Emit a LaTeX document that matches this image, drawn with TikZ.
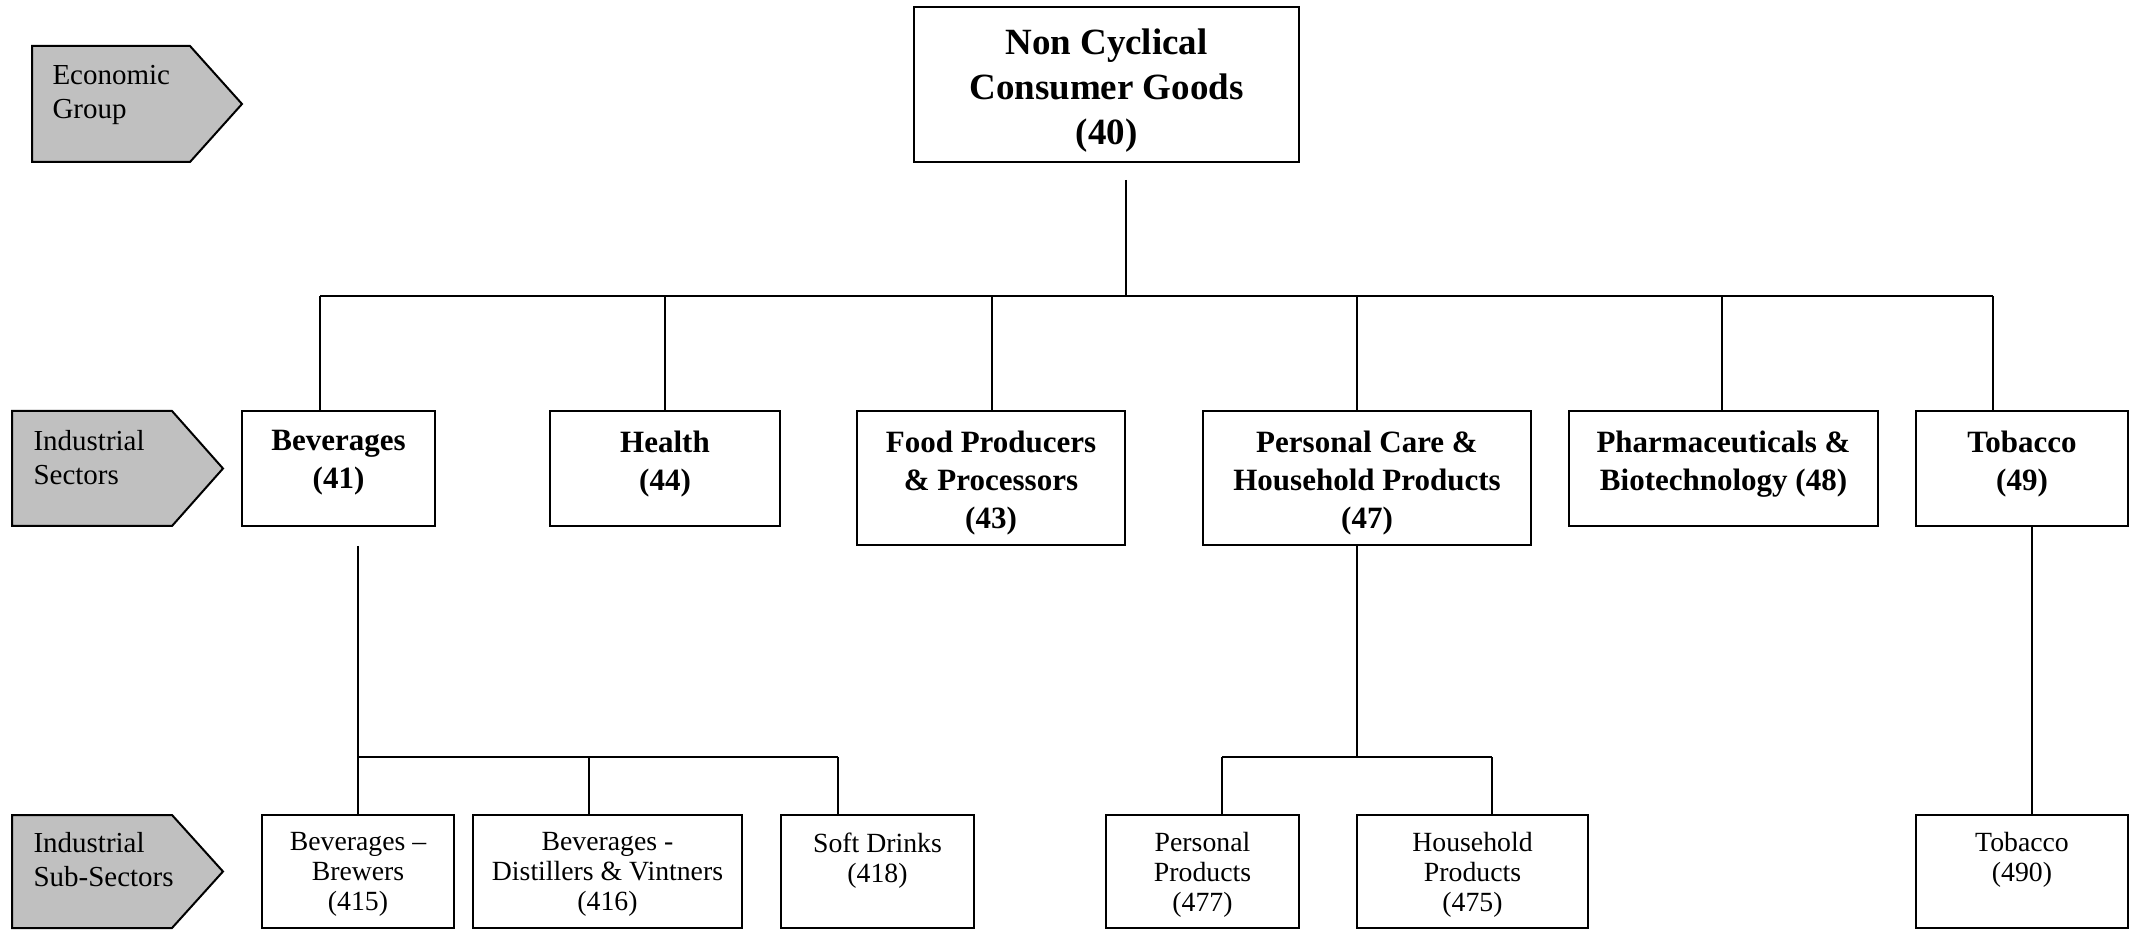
\documentclass[tikz,border=0pt]{standalone}
\usepackage{fontspec}
\setmainfont{Liberation Serif}
\definecolor{tagfill}{RGB}{192,192,192}
\begin{document}
\begin{tikzpicture}[x=0.4pt,y=-0.4pt,
 box/.style={draw, line width=0.8pt, inner sep=0pt},
 conn/.style={line width=0.7pt},
 tagshape/.style={draw, line width=0.8pt, fill=tagfill},
 toptxt/.style={anchor=north, inner sep=0pt, align=center, font=\fontsize{14.8}{18}\selectfont\bfseries},
 sectxt/.style={anchor=north, inner sep=0pt, align=center, font=\fontsize{12.4}{15.2}\selectfont\bfseries},
 subtxt/.style={anchor=north, inner sep=0pt, align=center, font=\fontsize{11.1}{12}\selectfont},
 tagtxt/.style={anchor=north west, inner sep=0pt, align=left, font=\fontsize{11.6}{13.6}\selectfont},
]
\useasboundingbox (0,0) rectangle (2130,930);

% level tags
\draw[tagshape] (32,46) -- (190,46) -- (242,104) -- (190,162) -- (32,162) -- cycle;
\draw[tagshape] (12,411) -- (172,411) -- (223,468.5) -- (172,526) -- (12,526) -- cycle;
\draw[tagshape] (12,815) -- (172,815) -- (223,871.5) -- (172,928) -- (12,928) -- cycle;
\node[tagtxt] (tag1) at (52,65) {Economic\\Group};
\node[tagtxt] (tag2) at (33,430) {Industrial\\Sectors};
\node[tagtxt] (tag3) at (33,832) {Industrial\\Sub-Sectors};

% top box
\node[box, minimum width=154pt, minimum height=62pt] (top) at (1106.5,84.5) {};
\node[toptxt] (topT) at (1106.5,28) {Non Cyclical\\Consumer Goods\\(40)};

% sector boxes
\node[box, minimum width=77.2pt, minimum height=46pt] (bev) at (338.5,468.5) {};
\node[box, minimum width=92pt, minimum height=46pt] (hea) at (665,468.5) {};
\node[box, minimum width=107.2pt, minimum height=53.6pt] (food) at (991,478) {};
\node[box, minimum width=131.2pt, minimum height=53.6pt] (pc) at (1367,478) {};
\node[box, minimum width=123.6pt, minimum height=46pt] (pha) at (1723.5,468.5) {};
\node[box, minimum width=84.8pt, minimum height=46pt] (tob) at (2022,468.5) {};
\node[sectxt] (bevT) at (338.5,430) {Beverages\\(41)};
\node[sectxt] (heaT) at (665,430) {Health\\(44)};
\node[sectxt] (foodT) at (991,430) {Food Producers\\\& Processors\\(43)};
\node[sectxt] (pcT) at (1367,430) {Personal Care \&\\Household Products\\(47)};
\node[sectxt] (phaT) at (1723.5,430) {Pharmaceuticals \&\\Biotechnology (48)};
\node[sectxt] (tobT) at (2022,430) {Tobacco\\(49)};

% sub-sector boxes
\node[box, minimum width=76.8pt, minimum height=45.2pt] (brew) at (358,871.5) {};
\node[box, minimum width=107.6pt, minimum height=45.2pt] (dist) at (607.5,871.5) {};
\node[box, minimum width=77.2pt, minimum height=45.2pt] (soft) at (877.5,871.5) {};
\node[box, minimum width=77.2pt, minimum height=45.2pt] (pp) at (1202.5,871.5) {};
\node[box, minimum width=92.4pt, minimum height=45.2pt] (hh) at (1472.5,871.5) {};
\node[box, minimum width=84.8pt, minimum height=45.2pt] (tobs) at (2022,871.5) {};
\node[subtxt] (brewT) at (358,832) {Beverages --\\Brewers\\(415)};
\node[subtxt] (distT) at (607.5,832) {Beverages -\\Distillers \& Vintners\\(416)};
\node[subtxt] (softT) at (877.5,832) {Soft Drinks\\(418)};
\node[subtxt] (ppT) at (1202.5,832) {Personal\\Products\\(477)};
\node[subtxt] (hhT) at (1472.5,832) {Household\\Products\\(475)};
\node[subtxt] (tobsT) at (2022,832) {Tobacco\\(490)};

% top-level connectors
\coordinate (s0) at (1126,180);
\coordinate (b0) at (1126,296);
\coordinate (x1) at (320,296);
\coordinate (x2) at (665,296);
\coordinate (x3) at (992,296);
\coordinate (x4) at (1357,296);
\coordinate (x5) at (1722,296);
\coordinate (x6) at (1993,296);
\draw[conn] (s0) -- (b0);
\draw[conn] (x1) -- (x6);
\foreach \c/\n in {x1/bev,x2/hea,x3/food,x4/pc,x5/pha,x6/tob}
  \draw[conn] (\c) -- (\c |- \n.north);

% beverages sub-tree
\coordinate (bs) at (358,546);
\coordinate (bb1) at (358,757);
\coordinate (bb2) at (589,757);
\coordinate (bb3) at (838,757);
\draw[conn] (bs) -- (bb1);
\draw[conn] (bb1) -- (bb3);
\draw[conn] (bb1) -- (bb1 |- brew.north);
\draw[conn] (bb2) -- (bb2 |- dist.north);
\draw[conn] (bb3) -- (bb3 |- soft.north);

% personal care sub-tree
\coordinate (pb) at (1357,757);
\coordinate (pb1) at (1222,757);
\coordinate (pb2) at (1492,757);
\draw[conn] (pb |- pc.south) -- (pb);
\draw[conn] (pb1) -- (pb2);
\draw[conn] (pb1) -- (pb1 |- pp.north);
\draw[conn] (pb2) -- (pb2 |- hh.north);

% tobacco sub-tree
\coordinate (tx) at (2032,600);
\draw[conn] (tx |- tob.south) -- (tx |- tobs.north);
\end{tikzpicture}
\end{document}
